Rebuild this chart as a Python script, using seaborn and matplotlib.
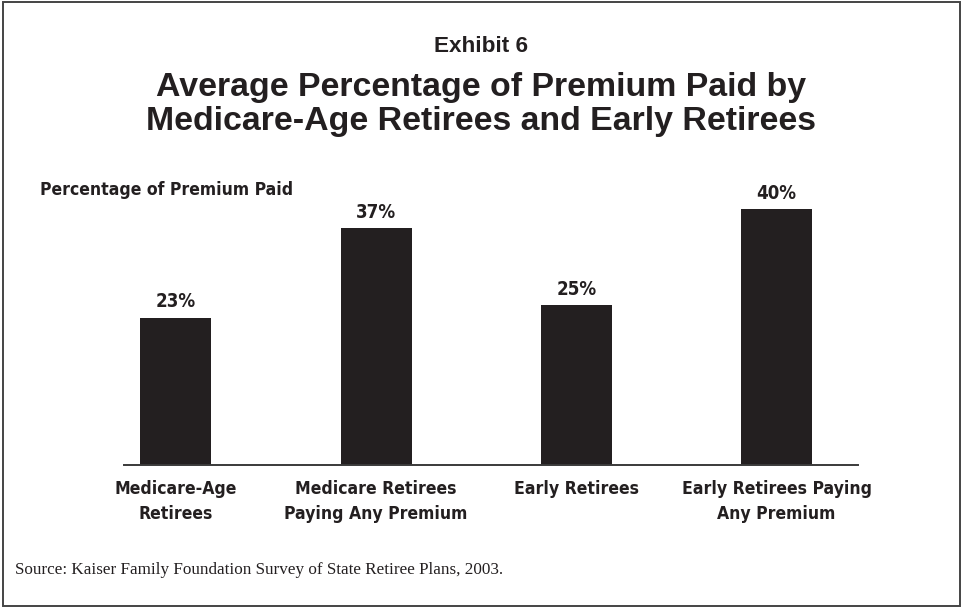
import matplotlib
matplotlib.use("Agg")
import matplotlib.pyplot as plt
from matplotlib import font_manager as fm
from matplotlib.patches import Rectangle
import pandas as pd
import seaborn as sns

# Exhibit data
categories = [
    "Medicare-Age\nRetirees",
    "Medicare Retirees\nPaying Any Premium",
    "Early Retirees",
    "Early Retirees Paying\nAny Premium",
]
premium_paid = [23, 37, 25, 40]

exhibit_label = "Exhibit 6"
title_text = ("Average Percentage of Premium Paid by\n"
              "Medicare-Age Retirees and Early Retirees")
y_label = "Percentage of Premium Paid"
source_text = "Source: Kaiser Family Foundation Survey of State Retiree Plans, 2003."

INK = "#231f20"

sns.set_theme(style="white")
plt.rcParams["font.family"] = ["Liberation Sans", "DejaVu Sans"]

installed = {f.name for f in fm.fontManager.ttflist}
if "Liberation Sans Narrow" in installed:
    narrow = dict(family="Liberation Sans Narrow", fontweight="bold")
    label_size, value_size = 14.2, 15.0
else:
    narrow = dict(family="DejaVu Sans", fontstretch="condensed", fontweight="bold")
    label_size, value_size = 12.6, 13.4

W, H = 962, 608
fig = plt.figure(figsize=(W / 100, H / 100), dpi=100)
fig.patch.set_facecolor("white")

# plot area: baseline at y=465 px, 6.4 px per percentage point
left_px, right_px, base_px = 124, 858, 465
ymax = 45
ax = fig.add_axes([left_px / W, (H - base_px) / H,
                   (right_px - left_px) / W, ymax * 6.4 / H])

df = pd.DataFrame({"category": categories, "value": premium_paid})
sns.barplot(data=df, x="category", y="value", color=INK, saturation=1,
            width=0.355, edgecolor="none", ax=ax)

ax.set_xlim(-0.2586, 3.406)
ax.set_ylim(0, ymax)
for s in ["top", "right", "left"]:
    ax.spines[s].set_visible(False)
ax.spines["bottom"].set_color("#3a3a3a")
ax.spines["bottom"].set_linewidth(1.4)
ax.set_yticks([])
ax.set_xlabel("")
ax.set_ylabel("")
ax.tick_params(axis="x", length=0, pad=11)
ax.set_xticks(range(len(categories)))
ax.set_xticklabels(categories, color=INK, linespacing=1.45,
                   fontsize=label_size, **narrow)
ax.patch.set_alpha(0)

for i, v in enumerate(premium_paid):
    ax.annotate(f"{v}%", xy=(i, v), xytext=(0, 7.5), textcoords="offset points",
                ha="center", va="baseline", color=INK,
                fontsize=value_size, **narrow)

# titles
fig.text(481 / W, 1 - 52 / H, exhibit_label, ha="center", va="baseline",
         fontsize=16.2, fontweight="bold", color=INK)
fig.text(481 / W, 1 - 130 / H, title_text, ha="center", va="baseline",
         fontsize=24.4, fontweight="bold", color=INK, linespacing=1.12)
fig.text(40 / W, 1 - 195 / H, y_label, ha="left", va="baseline", color=INK,
         fontsize=label_size, **narrow)

fig.text(15 / W, 1 - 574 / H, source_text, ha="left", va="baseline",
         family=["Liberation Serif", "DejaVu Serif"], fontsize=12.3, color=INK)

# frame around the exhibit
fig.add_artist(Rectangle((3 / W, 2 / H), (960 - 3) / W, (606 - 2) / H,
                         transform=fig.transFigure, fill=False,
                         edgecolor="#444444", linewidth=1.4))

fig.savefig("out.png", dpi=100, facecolor="white")
